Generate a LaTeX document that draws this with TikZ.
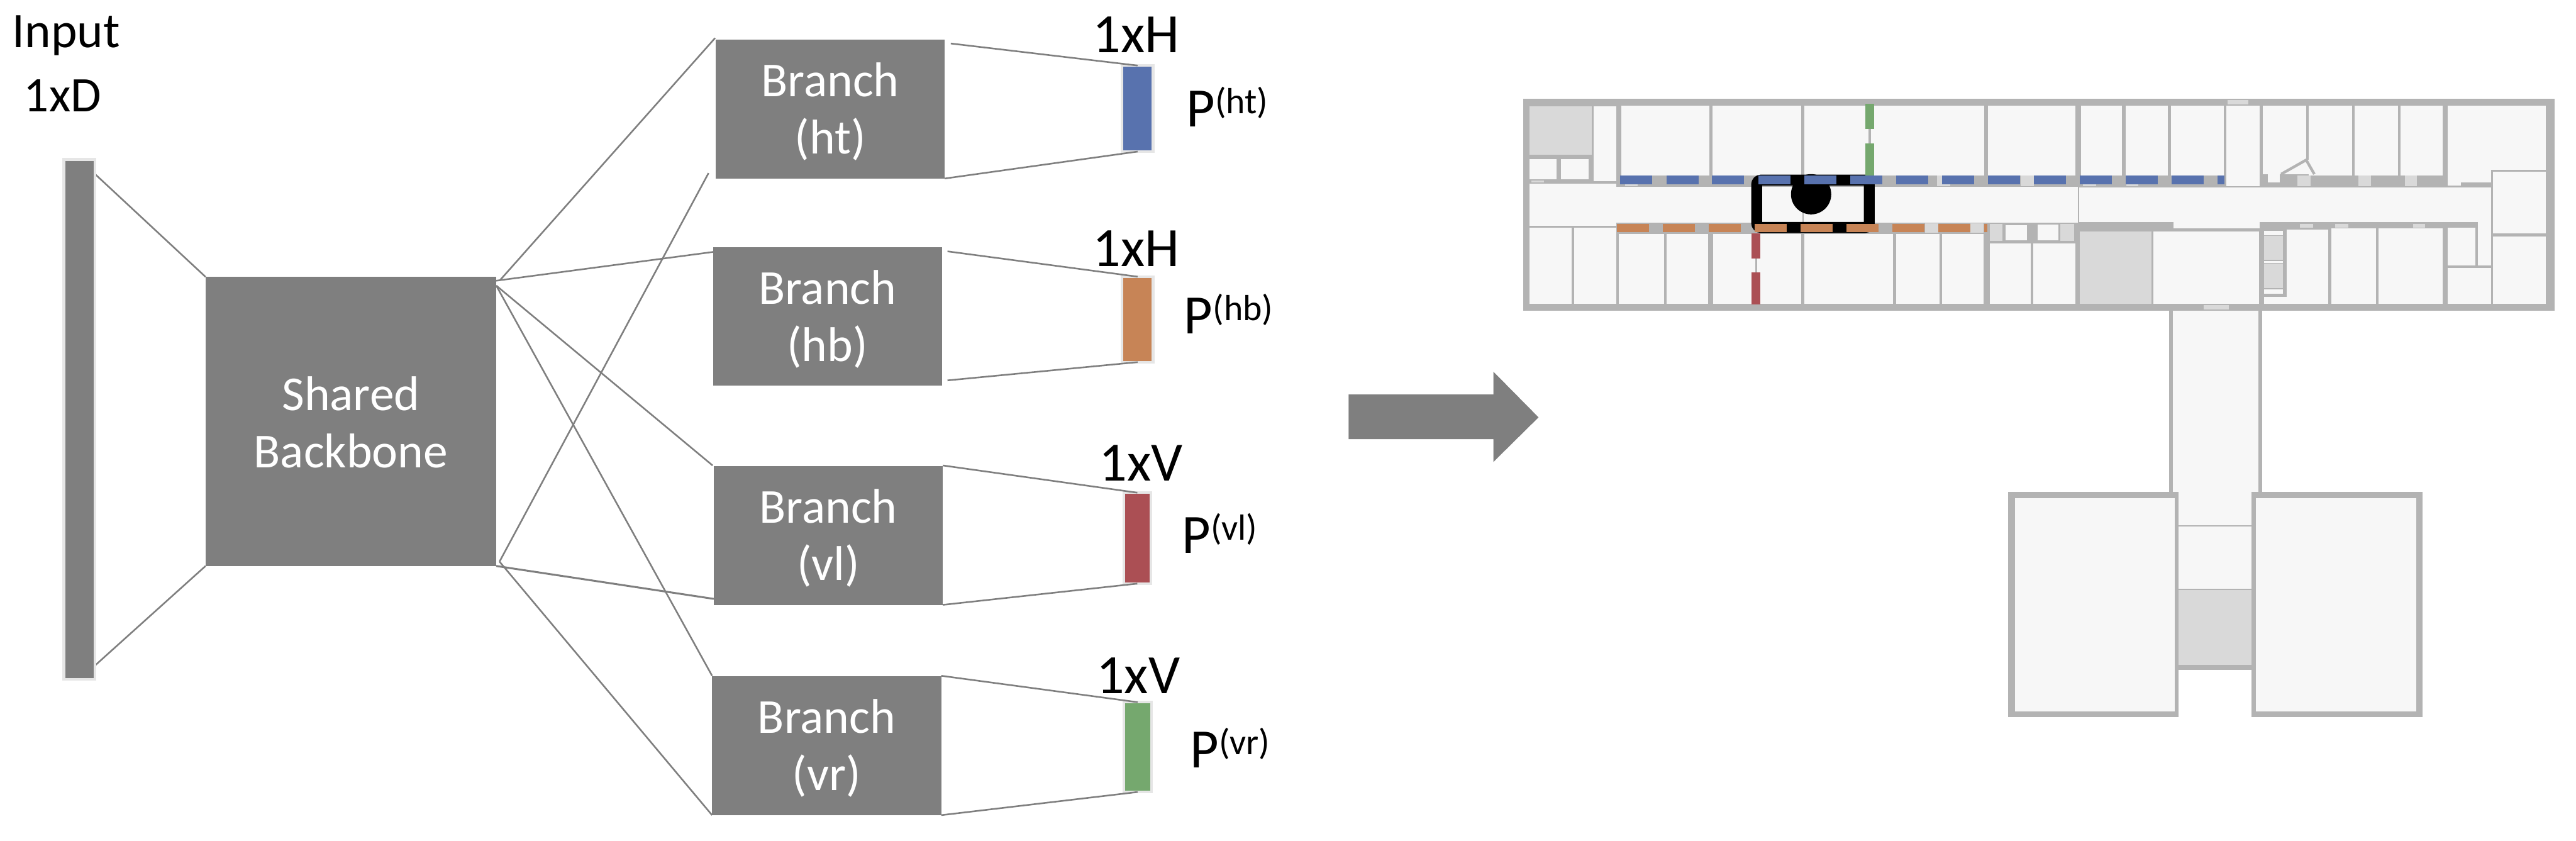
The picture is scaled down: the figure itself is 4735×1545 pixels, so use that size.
\documentclass[tikz,border=0pt]{standalone}
\usepackage{fontspec}
\setmainfont{Carlito}
\usepackage{xcolor}
\usetikzlibrary{calc,backgrounds}
\definecolor{boxgray}{HTML}{7F7F7F}
\definecolor{barline}{HTML}{E6E6E6}
\definecolor{wall}{HTML}{B3B3B3}
\definecolor{roomfill}{HTML}{F7F7F7}
\definecolor{darkroom}{HTML}{D9D9D9}
\definecolor{hthue}{HTML}{5872AE}
\definecolor{hbhue}{HTML}{C78456}
\definecolor{vlhue}{HTML}{AB4F54}
\definecolor{vrhue}{HTML}{75A86E}
\newcommand{\plabel}[1]{P\raisebox{.24cm}{\fontsize{19}{19}\selectfont(#1)}}
\tikzset{
  box/.style={fill=boxgray, text=white, align=center, inner sep=0pt, outer sep=0pt, text depth=0cm, font=\fontsize{25.5}{30}\selectfont},
  branch/.style={box, minimum width=4.21cm, minimum height=2.55cm, text height=1.65cm},
  bar/.style={draw=barline, line width=.05cm, inner sep=0pt, outer sep=0pt, minimum width=.57cm},
  htbar/.style={bar, fill=hthue, minimum height=1.58cm},
  hbbar/.style={bar, fill=hbhue, minimum height=1.57cm},
  vlbar/.style={bar, fill=vlhue, minimum width=.50cm, minimum height=1.67cm},
  vrbar/.style={bar, fill=vrhue, minimum width=.51cm, minimum height=1.65cm},
  size/.style={inner sep=0pt, anchor=base, font=\fontsize{29}{29}\selectfont},
  plab/.style={inner sep=0pt, anchor=base west, font=\fontsize{29}{29}\selectfont},
  conn/.style={draw=boxgray, line width=.03cm},
  room/.style={fill=roomfill},
  dark/.style={fill=darkroom}
}
\begin{document}
\begin{tikzpicture}[x=.01cm, y=-.01cm]
  \useasboundingbox (0,0) rectangle (4735,1545);
  \node[size, font=\fontsize{26}{26}\selectfont] (inputlab) at (122,87) {Input};
  \node[size, font=\fontsize{26}{26}\selectfont] (inputsize) at (115,205) {1xD};
  \node[bar, fill=boxgray, minimum height=9.55cm] (input) at (146,771) {};
  \node[box, minimum width=5.34cm, minimum height=5.31cm, text height=1.7cm] (backbone) at (645,774.5) {Shared\\Backbone};
  \node[branch] (ht) at (1526,200.5) {Branch\\(ht)};
  \node[branch] (hb) at (1521,581.5) {Branch\\(hb)};
  \node[branch] (vl) at (1522.5,984) {Branch\\(vl)};
  \node[branch] (vr) at (1519.5,1370.5) {Branch\\(vr)};
  \node[htbar] (outht) at (2091,199.5) {};
  \node[hbbar] (outhb) at (2091,587) {};
  \node[vlbar] (outvl) at (2090.5,989) {};
  \node[vrbar] (outvr) at (2091,1373) {};
  \node[size] (sizeht) at (2088,97) {1xH};
  \node[size] (sizehb) at (2088,490) {1xH};
  \node[size] (sizevl) at (2097,884) {1xV};
  \node[size] (sizevr) at (2092,1274) {1xV};
  \node[plab] (pht) at (2180,233) {\plabel{ht}};
  \node[plab] (phb) at (2176,613) {\plabel{hb}};
  \node[plab] (pvl) at (2172,1017) {\plabel{vl}};
  \node[plab] (pvr) at (2187,1411) {\plabel{vr}};
  \begin{pgfonlayer}{background}
    \draw[conn] (input.north) -- (backbone.north west);
    \draw[conn] (input.south) -- (backbone.south west);
  \end{pgfonlayer}
  \draw[conn] ($(backbone.north east)+(7,6)$) -- ($(ht.north west)+(-1,-3)$);
  \draw[conn] ($(backbone.north east)+(0,7)$) -- ($(hb.north west)+(1,9)$);
  \draw[conn] ($(backbone.north east)+(0,16)$) -- ($(vl.north west)+(-2,-1)$);
  \draw[conn] ($(backbone.north east)+(0,16)$) -- ($(vr.north west)+(0,-1)$);
  \draw[conn] ($(backbone.south east)+(6,-8)$) -- ($(ht.south west)+(-13,-10)$);
  \draw[conn] ($(backbone.south east)+(6,-8)$) -- (vr.south west);
  \draw[conn, line width=.035cm] (backbone.south east) -- ($(vl.south west)+(0,-11)$);
  \draw[conn] ($(ht.north east)+(11,7)$) -- (outht.north);
  \draw[conn] (ht.south east) -- (outht.south);
  \draw[conn] ($(hb.north east)+(10,8)$) -- (outhb.north);
  \draw[conn] ($(hb.south east)+(10,-10)$) -- (outhb.south);
  \draw[conn] ($(vl.north east)+(0,-1)$) -- (outvl.north);
  \draw[conn] (vl.south east) -- (outvl.south);
  \draw[conn] ($(vr.north east)+(0,-1)$) -- (outvr.north);
  \draw[conn] (vr.south east) -- (outvr.south);
  \fill[boxgray] (2479,725) -- (2745,725) -- (2745,683) -- (2828,767) -- (2745,849) -- (2745,807) -- (2479,807) -- cycle;
  \fill[wall] (2800,182) rectangle (4696,571);
  \fill[wall] (3987,571) rectangle (4158,904);
  \fill[wall] (3691,904) rectangle (4453,1318);
  \fill[white] (4004,1231) rectangle (4139,1318);
  \foreach \xa/\ya/\xb/\yb in {
    2929/195/2971/333, 2811/292/2861/329, 2869/292/2920/329, 2811/338/2971/415,
    2980/194/3142/322, 3148/194/3311/322, 3316/194/3435/322, 3439/194/3647/322,
    3654/194/3815/322, 3825/194/3900/322, 3907/194/3985/322, 3991/194/4088/322,
    4092/194/4154/342, 4159/194/4239/320, 4244/194/4323/322, 4159/294/4323/320,
    4168/320/4190/335, 4328/194/4408/322, 4412/194/4490/322, 4499/194/4680/312,
    4499/312/4579/335, 4499/335/4523/341, 4582/316/4680/429, 4582/435/4680/558,
    2971/343/3313/409, 3315/343/3819/409, 3822/344/4579/408, 3995/408/4153/420,
    4555/408/4579/488, 2811/419/2889/558, 2894/419/2971/558, 2976/430/3059/558,
    3063/430/3140/558, 3149/430/3226/558, 3230/430/3311/558, 3316/430/3479/558,
    3485/430/3565/558, 3570/430/3646/558, 3657/447/3733/558, 3737/447/3815/558,
    3687/414/3726/442, 3745/413/3783/442, 3958/425/4152/558, 4161/424/4196/432,
    4161/480/4196/483, 4161/532/4196/540, 4203/422/4279/558, 4161/546/4203/558,
    4285/420/4367/558, 4372/420/4490/558, 4499/419/4550/488, 4499/493/4579/558,
    3994/571/4151/904, 4004/904/4139/965, 4004/968/4139/1082,
    3704/916/3998/1307, 4147/916/4441/1307}
    \fill[room] (\xa,\ya) rectangle (\xb,\yb);
  \foreach \xa/\ya/\xb/\yb in {
    2811/195/2926/284, 3657/411/3681/443, 3787/411/3812/443, 3823/425/3955/558,
    4161/433/4196/477, 4161/484/4196/529, 4004/1084/4139/1222,
    4094/184/4133/192, 4051/561/4097/569, 4223/323/4247/342,
    4335/323/4358/342, 4420/323/4443/342, 3714/323/3738/342, 3561/323/3585/342,
    3539/410/3563/428, 3622/410/3646/428, 4228/411/4252/419, 4292/411/4316/418,
    4435/411/4458/418, 2815/332/2838/335, 2987/339/3010/342, 3829/339/3853/342,
    3908/339/3930/342}
    \fill[dark] (\xa,\ya) rectangle (\xb,\yb);
  \draw[wall, line width=.05cm] (4193,320) -- (4239,294) -- (4254,320);
  \draw[line width=.2cm, rounded corners=.08cm] (3229,331) rectangle (3436,418);
  \fill (3329,357) circle (37);
  \foreach \xa in {2978,3063,3147,3232,3317,3401,3485,3570,3654,3738,3823,3907,3992}
    \fill[hthue] (\xa,323) rectangle ++(59,16);
  \fill[hthue] (4076,323) rectangle (4089,339);
  \foreach \xa in {2972,3056,3141,3225,3310,3394,3478,3563}
    \fill[hbhue] (\xa,411) rectangle ++(59,16);
  \fill[hbhue] (3647,411) rectangle (3653,427);
  \fill[vrhue] (3429,191) rectangle (3445,237);
  \fill[vrhue] (3429,263) rectangle (3445,322);
  \fill[vlhue] (3220,429) rectangle (3236,475);
  \fill[vlhue] (3220,501) rectangle (3236,559);
\end{tikzpicture}
\end{document}
